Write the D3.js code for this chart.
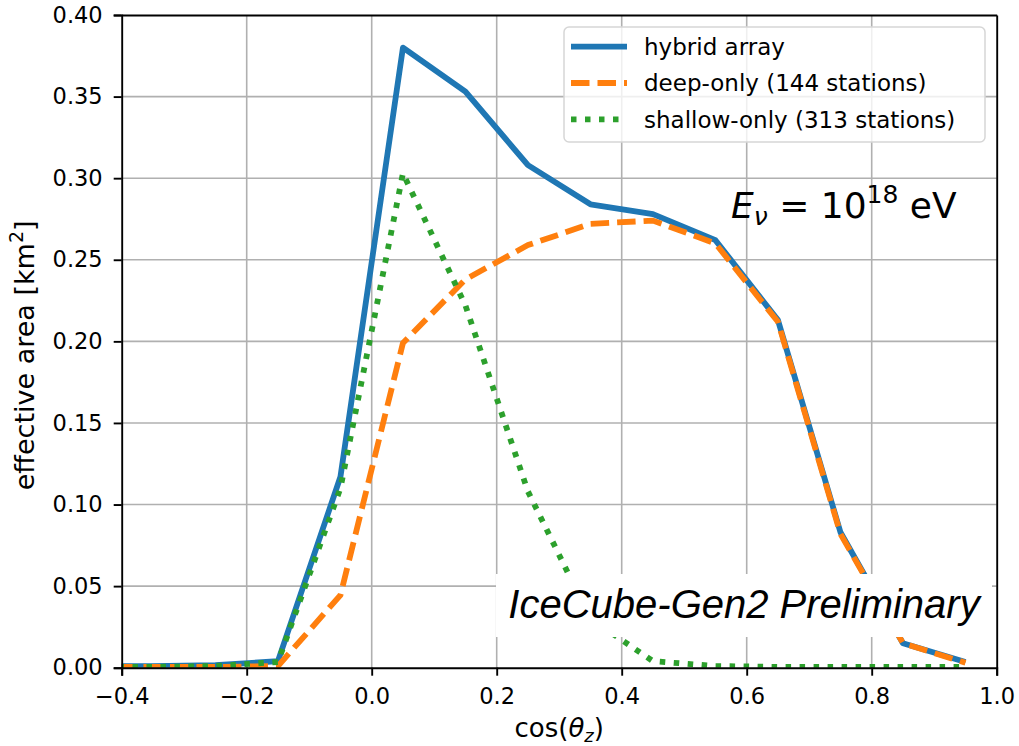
<!DOCTYPE html>
<html>
<head>
<meta charset="UTF-8">
<script src="https://d3js.org/d3.v7.min.js"></script>
<style>
  body { margin: 0; background: #fff; }
  svg text { font-family: "DejaVu Sans", sans-serif; }
</style>
</head>
<body>
<div id="chart"></div>
<script>
// bin centres of cos(theta_z)
const cosZ = [-0.45, -0.35, -0.25, -0.15, -0.05, 0.05, 0.15, 0.25, 0.35, 0.45, 0.55, 0.65, 0.75, 0.85, 0.95];
const hybrid  = [0.001, 0.001, 0.0015, 0.004, 0.117, 0.380, 0.353, 0.308, 0.284, 0.278, 0.262, 0.213, 0.083, 0.015, 0.0035];
const deep    = [0.0005, 0.0005, 0.0005, 0.001, 0.0445, 0.199, 0.238, 0.259, 0.272, 0.274, 0.260, 0.212, 0.082, 0.015, 0.003];
const shallow = [0.0005, 0.0005, 0.001, 0.0035, 0.11, 0.303, 0.222, 0.108, 0.03, 0.004, 0.001, 0.0005, 0.0005, 0.0005, 0.0005];
const seriesNames = ["hybrid array", "deep-only (144 stations)", "shallow-only (313 stations)"];
const xTicks = [-0.4, -0.2, 0.0, 0.2, 0.4, 0.6, 0.8, 1.0];
const yTicks = [0.00, 0.05, 0.10, 0.15, 0.20, 0.25, 0.30, 0.35, 0.40];

const W = 1019, H = 746;
const m = {left: 121.7, right: W - 996.7, top: 15, bottom: H - 667.7};
const iw = W - m.left - m.right, ih = H - m.top - m.bottom;

const svg = d3.select("#chart").append("svg").attr("width", W).attr("height", H);
const g = svg.append("g").attr("transform", `translate(${m.left},${m.top})`);

const x = d3.scaleLinear().domain([-0.4, 1.0]).range([0, iw]);
const y = d3.scaleLinear().domain([0, 0.4]).range([ih, 0]);

svg.append("defs").append("clipPath").attr("id", "clip")
  .append("rect").attr("width", iw).attr("height", ih);

// grid
g.append("g").selectAll("line").data(xTicks.slice(1, -1)).join("line")
  .attr("x1", d => x(d)).attr("x2", d => x(d)).attr("y1", 0).attr("y2", ih)
  .attr("stroke", "#b0b0b0").attr("stroke-width", 1.6);
g.append("g").selectAll("line").data(yTicks.slice(1, -1)).join("line")
  .attr("y1", d => y(d)).attr("y2", d => y(d)).attr("x1", 0).attr("x2", iw)
  .attr("stroke", "#b0b0b0").attr("stroke-width", 1.6);

// curves
const styles = [
  {data: hybrid, color: "#1f77b4", dash: null},
  {data: deep, color: "#ff7f0e", dash: "18.5,8"},
  {data: shallow, color: "#2ca02c", dash: "5.5,8.5"}
];
const line = d3.line().x((d, i) => x(cosZ[i])).y(d => y(d));
const curves = g.append("g").attr("clip-path", "url(#clip)");
styles.forEach(s => {
  curves.append("path").attr("d", line(s.data))
    .attr("fill", "none").attr("stroke", s.color).attr("stroke-width", 5.8)
    .attr("stroke-dasharray", s.dash).attr("stroke-linejoin", "round");
});

// preliminary label box
svg.append("rect").attr("x", 496).attr("y", 574).attr("width", 496).attr("height", 63).attr("fill", "#fff");
svg.append("text").attr("x", 744).attr("y", 618)
  .attr("text-anchor", "middle").attr("font-size", 40)
  .attr("font-style", "italic").style("font-family", "'Liberation Sans', Arial, sans-serif")
  .text("IceCube-Gen2 Preliminary");

// energy label
const et = svg.append("text").attr("x", 731).attr("y", 218).attr("font-size", 36);
et.append("tspan").attr("font-style", "italic").text("E");
et.append("tspan").attr("font-style", "italic").attr("font-size", 25).attr("dy", 7).text("ν");
et.append("tspan").attr("dy", -7).text(" = 10");
et.append("tspan").attr("font-size", 25).attr("dy", -15).text("18");
et.append("tspan").attr("dy", 15).text(" eV");

// axes
g.append("g").attr("transform", `translate(0,${ih})`)
  .call(d3.axisBottom(x).tickValues(xTicks).tickSize(8).tickPadding(12)
    .tickFormat(d => d3.format(".1f")(d).replace("-", "\u2212")));
g.append("g")
  .call(d3.axisLeft(y).tickValues(yTicks).tickSize(8).tickPadding(11).tickFormat(d3.format(".2f")));
g.append("g").attr("transform", `translate(${iw},0)`).call(d3.axisRight(y).tickValues([]).tickSizeOuter(0));
g.append("g").call(d3.axisTop(x).tickValues([]).tickSizeOuter(0));
g.selectAll(".domain").attr("stroke", "#000").attr("stroke-width", 1.9);
g.selectAll(".tick line").attr("stroke", "#000").attr("stroke-width", 1.9);
g.selectAll(".tick text").attr("font-size", 22.5).attr("fill", "#000")
  .style("font-family", "'DejaVu Sans', sans-serif");

// axis labels
const xl = svg.append("text").attr("x", m.left + iw / 2).attr("y", 737)
  .attr("text-anchor", "middle").attr("font-size", 26);
xl.append("tspan").text("cos(");
xl.append("tspan").attr("font-style", "italic").text("θ");
xl.append("tspan").attr("font-style", "italic").attr("font-size", 18).attr("dy", 5).text("z");
xl.append("tspan").attr("dy", -5).text(")");

const yl = svg.append("text").attr("transform", `translate(34,${m.top + ih / 2 + 14}) rotate(-90)`)
  .attr("text-anchor", "middle").attr("font-size", 27);
yl.append("tspan").text("effective area [km");
yl.append("tspan").attr("font-size", 19).attr("dy", -11).text("2");
yl.append("tspan").attr("dy", 11).text("]");

// legend
const leg = svg.append("g").attr("transform", "translate(564,27)");
leg.append("rect").attr("width", 421).attr("height", 115).attr("rx", 5)
  .attr("fill", "rgba(255,255,255,0.8)").attr("stroke", "#d6d6d6").attr("stroke-width", 1.5);
styles.forEach((s, i) => {
  const yy = 19.7 + i * 36.3;
  leg.append("line").attr("x1", 7).attr("x2", 63).attr("y1", yy).attr("y2", yy)
    .attr("stroke", s.color).attr("stroke-width", 5.8).attr("stroke-dasharray", s.dash);
  leg.append("text").attr("x", 80).attr("y", yy + 8.3).attr("font-size", 23).text(seriesNames[i]);
});
</script>
</body>
</html>
